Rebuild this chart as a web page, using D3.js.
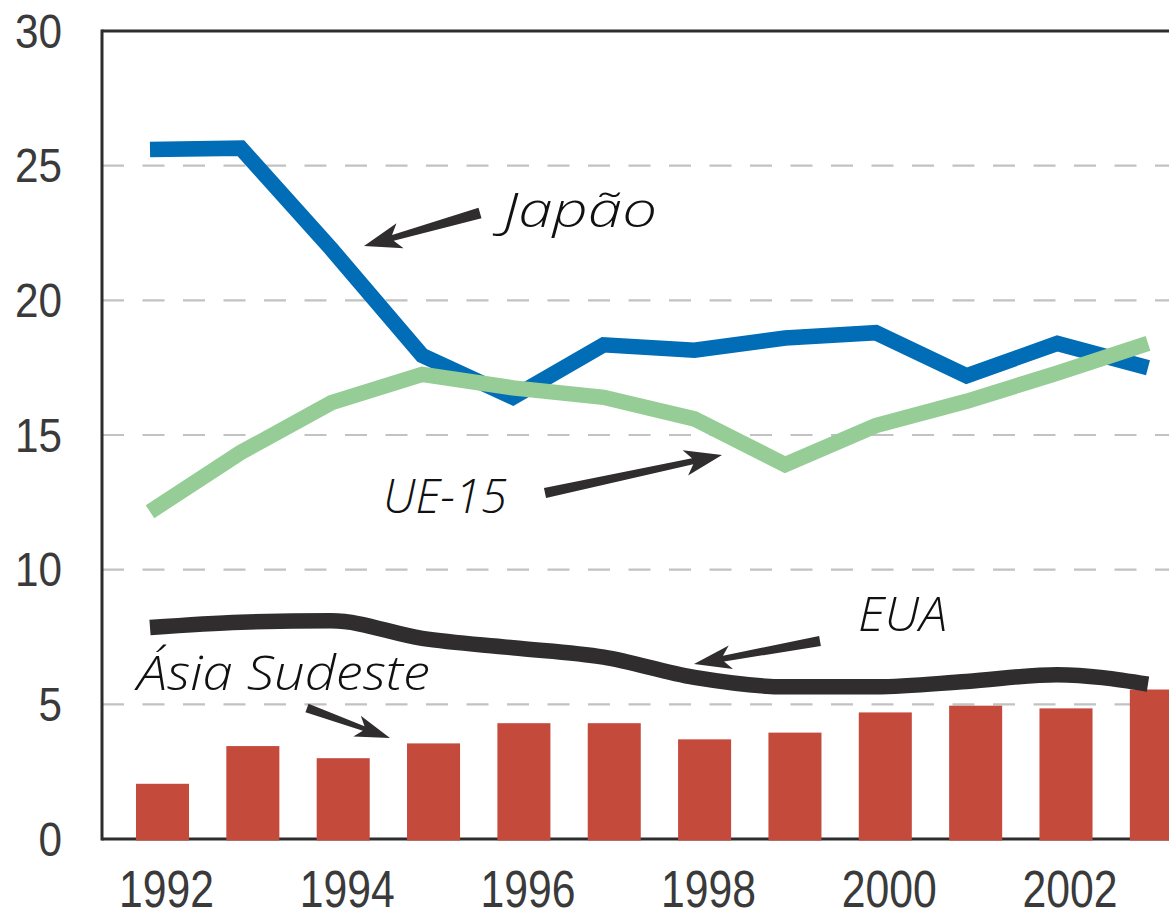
<!DOCTYPE html>
<html>
<head>
<meta charset="utf-8">
<script src="https://cdn.jsdelivr.net/npm/d3@7"></script>
<style>
  html, body { margin: 0; padding: 0; background: #fff; overflow: hidden; }
  svg { display: block; }
</style>
</head>
<body>
<svg id="chart" width="1169" height="914"></svg>
<script>
// ---- Data ----
const years = [1992, 1993, 1994, 1995, 1996, 1997, 1998, 1999, 2000, 2001, 2002, 2003];
const japao = [25.6, 25.65, 21.9, 17.95, 16.4, 18.35, 18.15, 18.6, 18.8, 17.2, 18.4, 17.5];
const ue15  = [12.15, 14.35, 16.2, 17.25, 16.75, 16.4, 15.6, 13.9, 15.35, 16.25, 17.3, 18.4];
const eua   = [7.85, 8.05, 8.1, 7.45, 7.1, 6.75, 6.0, 5.65, 5.65, 5.85, 6.1, 5.75];
const asiaSudeste = [2.05, 3.45, 3.0, 3.55, 4.3, 4.3, 3.7, 3.95, 4.7, 4.95, 4.85, 5.55];
const yTicks = [0, 5, 10, 15, 20, 25, 30];
const xTickYears = [1992, 1994, 1996, 1998, 2000, 2002];
const labels = { japao: "Japão", ue15: "UE-15", eua: "EUA", asia: "Ásia Sudeste" };

(function () {
// ---- Layout ----
const pL = 102, pT = 31, pB = 839, pR = 1169;
const svg = d3.select("#chart");

const y = d3.scaleLinear().domain([0, 30]).range([pB, pT]);
const step = 90.35;
const xBand = d3.scaleBand().domain(years)
  .range([162.5 - step / 2, 162.5 - step / 2 + step * years.length])
  .paddingInner(0.413).paddingOuter(0.2065);
const xLine = d3.scaleLinear().domain([1992, 2003]).range([150, 1148]);

const tickFont = "'Liberation Sans Narrow', 'Liberation Sans', Arial, sans-serif";

// gridlines
svg.append("g").selectAll("line")
  .data(yTicks.filter(d => d > 0 && d < 30))
  .join("line")
  .attr("x1", pL).attr("x2", pR)
  .attr("y1", d => y(d)).attr("y2", d => y(d))
  .attr("stroke", "#c2c2c2").attr("stroke-width", 2.2)
  .attr("stroke-dasharray", "22,18.5");

// y axis labels
const yAxis = d3.axisLeft(y).tickValues(yTicks).tickSize(0).tickPadding(40);
const gy = svg.append("g").attr("transform", `translate(${pL},0)`).call(yAxis);
gy.select(".domain").remove();
gy.selectAll("text")
  .attr("font-family", tickFont)
  .attr("font-size", 49).attr("fill", "#3a3a3a").attr("dy", "0.33em")
  .attr("textLength", d => String(d).length * 23.5)
  .attr("lengthAdjust", "spacingAndGlyphs");

// x axis labels
const xAxis = d3.axisBottom(xBand).tickValues(xTickYears).tickSize(0).tickPadding(31);
const gx = svg.append("g").attr("transform", `translate(4,${pB})`).call(xAxis);
gx.select(".domain").remove();
gx.selectAll("text")
  .attr("font-family", tickFont)
  .attr("font-size", 52).attr("fill", "#3a3a3a").attr("dy", "0.71em")
  .attr("textLength", 95)
  .attr("lengthAdjust", "spacingAndGlyphs");

// frame: left, top, bottom
svg.append("line").attr("x1", pL).attr("x2", pL).attr("y1", pT - 1.5).attr("y2", pB + 1.5)
  .attr("stroke", "#2d2d2d").attr("stroke-width", 3);
svg.append("line").attr("x1", pL).attr("x2", pR).attr("y1", pT).attr("y2", pT)
  .attr("stroke", "#2d2d2d").attr("stroke-width", 3);
svg.append("line").attr("x1", pL).attr("x2", pR).attr("y1", pB).attr("y2", pB)
  .attr("stroke", "#2d2d2d").attr("stroke-width", 3);

// bars
svg.append("g").selectAll("rect")
  .data(years.map((yr, i) => ({ yr, v: asiaSudeste[i] })))
  .join("rect")
  .attr("x", d => xBand(d.yr))
  .attr("width", xBand.bandwidth())
  .attr("y", d => y(d.v))
  .attr("height", d => pB + 1.5 - y(d.v))
  .attr("fill", "#c44a3c");

// lines
function drawLine(vals, color, curve) {
  const gen = d3.line().x((d, i) => xLine(years[i])).y(d => y(d)).curve(curve);
  svg.append("path").attr("d", gen(vals))
    .attr("fill", "none").attr("stroke", color).attr("stroke-width", 15.5)
    .attr("stroke-linejoin", "miter").attr("stroke-linecap", "butt");
}
drawLine(japao, "#006db6", d3.curveLinear);
drawLine(ue15, "#96cd96", d3.curveLinear);
drawLine(eua, "#2f2d2e", d3.curveMonotoneX);

// arrows
function arrow(x1, y1, x2, y2, headLen, headW, w0, w1) {
  const dx = x2 - x1, dy = y2 - y1, L = Math.hypot(dx, dy);
  const ux = dx / L, uy = dy / L, nx = -uy, ny = ux;
  const bx = x2 - ux * headLen, by = y2 - uy * headLen;
  const bbx = x2 - ux * headLen * 1.25, bby = y2 - uy * headLen * 1.25;
  const pts = [
    [x1 + nx * w0 / 2, y1 + ny * w0 / 2],
    [bx + nx * w1 / 2, by + ny * w1 / 2],
    [bbx + nx * headW, bby + ny * headW],
    [x2, y2],
    [bbx - nx * headW, bby - ny * headW],
    [bx - nx * w1 / 2, by - ny * w1 / 2],
    [x1 - nx * w0 / 2, y1 - ny * w0 / 2]
  ];
  svg.append("path").attr("d", d3.line()(pts) + "Z").attr("fill", "#2f2d2e");
}
arrow(480, 213, 364, 246, 30, 13, 11, 6);
arrow(545, 493, 722, 455, 30, 13, 10, 6);
arrow(820, 641, 694, 664, 30, 12, 10, 6);
arrow(307, 708, 390, 738, 28, 11, 9, 5);

// annotation texts
function label(txt, x, yb, len) {
  svg.append("text").text(txt)
    .attr("x", x).attr("y", yb)
    .attr("font-family", "'Open Sans', 'Lato', sans-serif")
    .attr("font-style", "italic").attr("font-weight", 300)
    .attr("font-size", 47).attr("fill", "#111")
    .attr("textLength", len).attr("lengthAdjust", "spacingAndGlyphs");
}
label(labels.japao, 503, 227, 154);
label(labels.ue15, 383, 513, 124);
label(labels.eua, 858, 631, 89);
label(labels.asia, 137, 690, 293);
})();
</script>
</body>
</html>
